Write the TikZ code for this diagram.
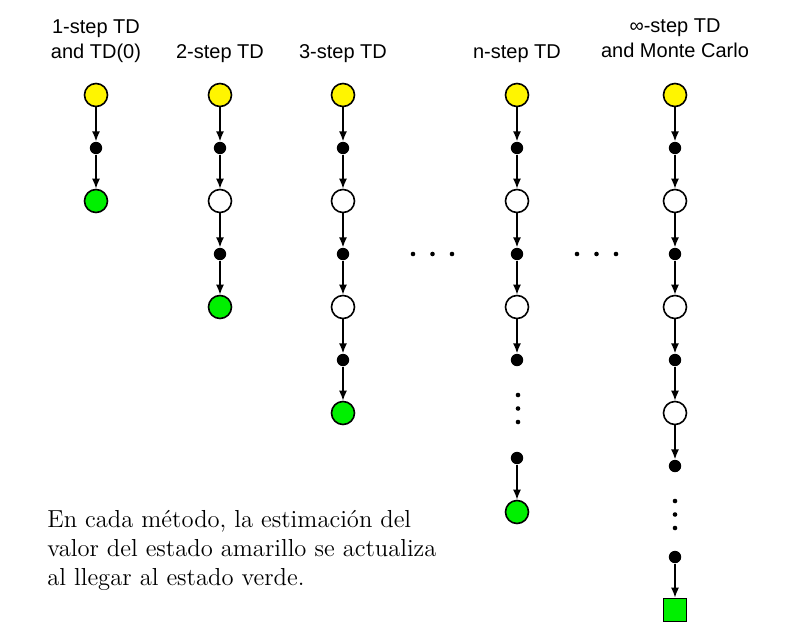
\documentclass[tikz,border=0pt]{standalone}
\usepackage{fontspec}
\newfontfamily\hfont{Liberation Sans}
\usetikzlibrary{arrows.meta}
\definecolor{ystate}{RGB}{255,245,0}
\definecolor{gstate}{RGB}{0,240,0}
\begin{document}
\begin{tikzpicture}[x=0.5pt,y=-0.5pt,
  state/.style={circle,draw=black,line width=0.8pt,minimum size=11.5pt,inner sep=0pt,fill=white},
  start/.style={state,fill=ystate},
  goal/.style={state,fill=gstate},
  term/.style={rectangle,draw=black,line width=0.8pt,minimum size=11.5pt,inner sep=0pt,fill=gstate},
  act/.style={circle,fill=black,minimum size=6.2pt,inner sep=0pt},
  tiny/.style={circle,fill=black,minimum size=2.3pt,inner sep=0pt},
  flow/.style={-{Latex[length=5pt,width=4pt]},line width=0.8pt},
  head/.style={font=\hfont\fontsize{10}{12.5}\selectfont,align=center,inner sep=0pt}]
\useasboundingbox (0,0) rectangle (808,632);

% headers
\node[head] (h1) at (96,41.5) {1-step TD\\and TD(0)};
\node[head] (h2) at (220,54) {2-step TD};
\node[head] (h3) at (343,54) {3-step TD};
\node[head] (h4) at (517,54) {n-step TD};
\node[head] (h5) at (675,38) {∞-step TD\\and Monte Carlo};

% column 1
\node[start] (a1) at (96,95) {};
\node[act] (b1) at (96,148) {};
\node[goal] (c1) at (96,201) {};
\draw[flow] (a1) -- (b1);
\draw[flow] (b1) -- (c1);

% column 2
\node[start] (a2) at (220,95) {};
\node[act] (b2) at (220,148) {};
\node[state] (c2) at (220,201) {};
\node[act] (d2) at (220,254) {};
\node[goal] (e2) at (220,307) {};
\draw[flow] (a2) -- (b2);
\draw[flow] (b2) -- (c2);
\draw[flow] (c2) -- (d2);
\draw[flow] (d2) -- (e2);

% column 3
\node[start] (a3) at (343,95) {};
\node[act] (b3) at (343,148) {};
\node[state] (c3) at (343,201) {};
\node[act] (d3) at (343,254) {};
\node[state] (e3) at (343,307) {};
\node[act] (f3) at (343,360) {};
\node[goal] (g3) at (343,413) {};
\draw[flow] (a3) -- (b3);
\draw[flow] (b3) -- (c3);
\draw[flow] (c3) -- (d3);
\draw[flow] (d3) -- (e3);
\draw[flow] (e3) -- (f3);
\draw[flow] (f3) -- (g3);

% column 4 (n-step)
\node[start] (a4) at (517,95) {};
\node[act] (b4) at (517,148) {};
\node[state] (c4) at (517,201) {};
\node[act] (d4) at (517,254) {};
\node[state] (e4) at (517,307) {};
\node[act] (f4) at (517,360) {};
\node[tiny] (v41) at (518,395) {};
\node[tiny] (v42) at (518,408.5) {};
\node[tiny] (v43) at (518,422) {};
\node[act] (g4) at (517,458) {};
\node[goal] (h4n) at (517,512) {};
\draw[flow] (a4) -- (b4);
\draw[flow] (b4) -- (c4);
\draw[flow] (c4) -- (d4);
\draw[flow] (d4) -- (e4);
\draw[flow] (e4) -- (f4);
\draw[flow] (g4) -- (h4n);

% column 5 (infinity-step)
\node[start] (a5) at (675,95) {};
\node[act] (b5) at (675,148) {};
\node[state] (c5) at (675,201) {};
\node[act] (d5) at (675,254) {};
\node[state] (e5) at (675,307) {};
\node[act] (f5) at (675,360) {};
\node[state] (g5) at (675,413) {};
\node[act] (h5n) at (675,466) {};
\node[tiny] (v51) at (675,501) {};
\node[tiny] (v52) at (675,514.5) {};
\node[tiny] (v53) at (675,528) {};
\node[act] (i5) at (675,557) {};
\node[term] (j5) at (675,610) {};
\draw[flow] (a5) -- (b5);
\draw[flow] (b5) -- (c5);
\draw[flow] (c5) -- (d5);
\draw[flow] (d5) -- (e5);
\draw[flow] (e5) -- (f5);
\draw[flow] (f5) -- (g5);
\draw[flow] (g5) -- (h5n);
\draw[flow] (i5) -- (j5);

% horizontal ellipses
\node[tiny] (x1) at (413,254) {};
\node[tiny] (x2) at (432.5,254) {};
\node[tiny] (x3) at (452,254) {};
\node[tiny] (y1) at (577,254) {};
\node[tiny] (y2) at (596.5,254) {};
\node[tiny] (y3) at (616,254) {};

% caption
\node[anchor=north west,align=left,inner sep=0pt,font=\fontsize{12.3}{14.5}\selectfont] (txt) at (47,510)
  {En cada método, la estimación del\\valor del estado amarillo se actualiza\\al llegar al estado verde.};
\end{tikzpicture}
\end{document}
